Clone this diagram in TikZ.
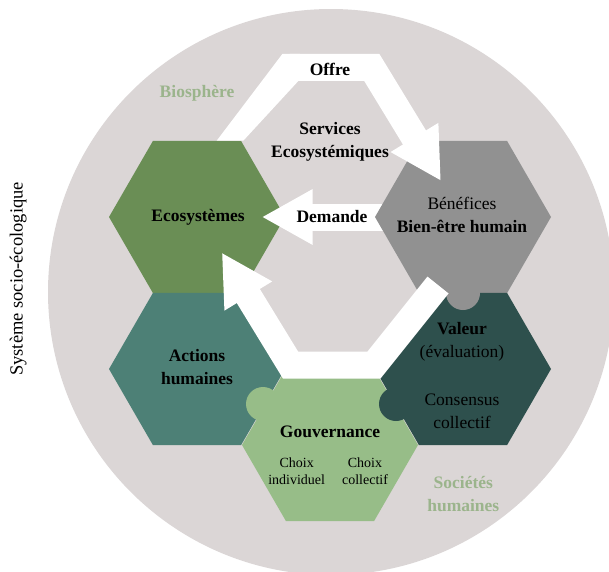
\documentclass[tikz,border=0pt]{standalone}
\usepackage{fontspec}
\setmainfont{Liberation Serif}
\usetikzlibrary{arrows.meta}

\definecolor{bgcircle}{RGB}{219,214,214}
\definecolor{ecogreen}{RGB}{106,142,85}
\definecolor{bengrey}{RGB}{145,145,145}
\definecolor{actteal}{RGB}{77,128,118}
\definecolor{valdark}{RGB}{46,80,77}
\definecolor{govgreen}{RGB}{151,189,136}
\definecolor{zonegreen}{RGB}{155,180,140}

% hexagone plein : couleur, centre
\newcommand{\hexfill}[2]{%
  \fill[#1] (#2) +(0:88) -- +(60:88) -- +(120:88) -- +(180:88) -- +(240:88) -- +(300:88) -- cycle;}

\tikzset{
  band/.style={white, line width=27pt, -{Triangle[length=51pt,width=52pt]}},
  lab/.style={font=\fontsize{17.5}{23}\selectfont\bfseries, align=center, inner sep=0pt},
  labn/.style={font=\fontsize{17.5}{23}\selectfont, align=center, inner sep=0pt},
  choix/.style={font=\fontsize{14}{17.3}\selectfont, align=center, inner sep=0pt},
  zone/.style={lab, text=zonegreen},
}

\begin{document}
\begin{tikzpicture}[x=1pt,y=-1pt]
  \useasboundingbox (0,0) rectangle (609,571);
  \clip (0,0) rectangle (609,571);
  \fill[bgcircle] (331,292) circle (283pt);

  \coordinate (eco) at (197,217);
  \coordinate (ben) at (463,217);
  \coordinate (act) at (197,369);
  \coordinate (val) at (463,369);
  \coordinate (gov) at (330,445);

  \hexfill{ecogreen}{eco}
  \hexfill{actteal}{act}

  % Demande
  \coordinate (demTip) at (261.7,217);
  \draw[band] (ben) -- (demTip);

  \hexfill{bengrey}{ben}
  \hexfill{valdark}{val}
  \hexfill{govgreen}{gov}

  % ergots
  \fill[govgreen] (263,404) circle (17pt);
  \fill[valdark] (396,404) circle (17pt);
  \fill[bengrey] (463,293) circle (17pt);

  % Offre
  \coordinate (offB) at (289.5,67.3);
  \coordinate (offC) at (371.7,67.3);
  \coordinate (offTip) at (441,181);
  \fill[white] (216.7,140.7) -- (282.5,53.8) -- (300,53.8) -- (300,80.8)
    -- (298.5,80.8) -- (243.3,140.7) -- cycle;
  \draw[band] (offB) -- (offC) -- (offTip);

  % boucle du bas
  \coordinate (botA) at (438,285);
  \coordinate (botB) at (374,365);
  \coordinate (botC) at (290.5,365);
  \coordinate (botTip) at (221.7,252.5);
  \draw[band] (botA) -- (botB) -- (botC) -- (botTip);

  \node[lab] (offre) at (330,69) {Offre};
  \node[zone] (biosph) at (197,93) {Biosphère};
  \node[lab] (serv) at (330,141.5) {Services\\Ecosystémiques};
  \node[lab] (ecoLab) at (198,217) {Ecosystèmes};
  \node[lab] (dem) at (332,217) {Demande};
  \node[labn] (benLab) at (462,215) {Bénéfices\\\textbf{Bien-être humain}};
  \node[lab] (actLab) at (197,367.5) {Actions\\humaines};
  \node[labn] (valTop) at (462,341.5) {\textbf{Valeur}\\(évaluation)};
  \node[labn] (valBot) at (462,411) {Consensus\\collectif};
  \node[lab] (govLab) at (330,431.7) {Gouvernance};
  \node[choix] (indiv) at (296.7,471.3) {Choix\\individuel};
  \node[choix] (coll) at (365,471.3) {Choix\\collectif};
  \node[zone] (soc) at (463.3,493.8) {Sociétés\\humaines};
  \node[labn, font=\fontsize{18.5}{23}\selectfont, rotate=90] (sys) at (18.3,279) {Système socio-écologique};
\end{tikzpicture}
\end{document}
